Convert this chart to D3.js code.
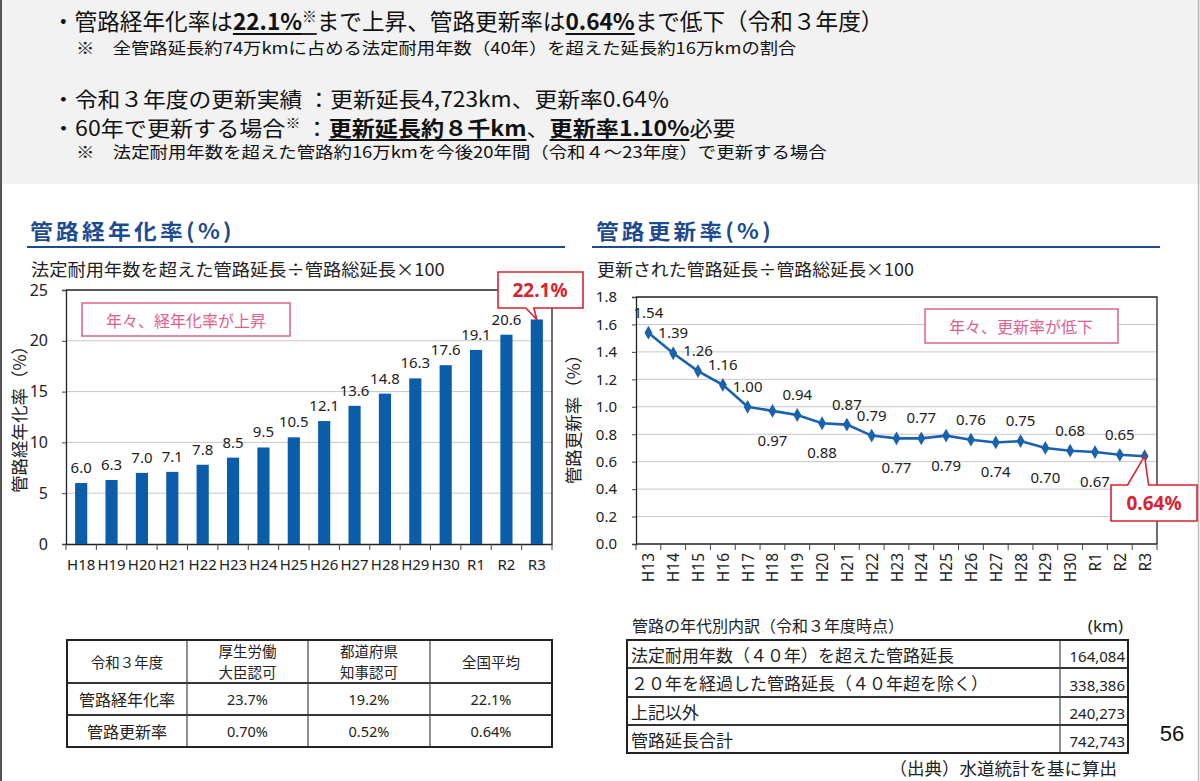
<!DOCTYPE html>
<html>
<head>
<meta charset="utf-8">
<script src="https://cdn.jsdelivr.net/npm/d3@7"></script>
<style>
  html, body { margin: 0; padding: 0; background: #fff; }
  svg { display: block; }
</style>
</head>
<body>
<div id="chart"></div>
<script>
// chart values
const agingCats = ["H18", "H19", "H20", "H21", "H22", "H23", "H24", "H25", "H26", "H27", "H28", "H29", "H30", "R1", "R2", "R3"];
const agingVals = [6.0, 6.3, 7.0, 7.1, 7.8, 8.5, 9.5, 10.5, 12.1, 13.6, 14.8, 16.3, 17.6, 19.1, 20.6, 22.1];
const agingTicks = [0, 5, 10, 15, 20, 25];

const renewCats = ["H13", "H14", "H15", "H16", "H17", "H18", "H19", "H20", "H21", "H22", "H23", "H24", "H25", "H26", "H27", "H28", "H29", "H30", "R1", "R2", "R3"];
const renewVals = [1.54, 1.39, 1.26, 1.16, 1.00, 0.97, 0.94, 0.88, 0.87, 0.79, 0.77, 0.77, 0.79, 0.76, 0.74, 0.75, 0.70, 0.68, 0.67, 0.65, 0.64];
const renewTicks = [0, 0.2, 0.4, 0.6, 0.8, 1.0, 1.2, 1.4, 1.6, 1.8];

const tableHead = ["令和３年度", "厚生労働\n大臣認可", "都道府県\n知事認可", "全国平均"];
const tableRowNames = ["管路経年化率", "管路更新率"];
const tableRowVals = [["23.7%", "19.2%", "22.1%"], ["0.70%", "0.52%", "0.64%"]];

const pipeLabels = ["法定耐用年数（４０年）を超えた管路延長", "２０年を経過した管路延長（４０年超を除く）", "上記以外", "管路延長合計"];
const pipeKm = [164084, 338386, 240273, 742743];

const JP = '"Noto Sans CJK JP", "Noto Sans", sans-serif';
const NUM = '"Noto Sans", "Noto Sans CJK JP", sans-serif';
const BLUE = "#0b5cab";
const RED = "#d9232e";
const PINK = "#e0608a";

const svg = d3.select("#chart").append("svg").attr("width", 1200).attr("height", 781);

svg.append("rect").attr("width", 1200).attr("height", 781).attr("fill", "#fff");
svg.append("rect").attr("width", 1200).attr("height", 184).attr("fill", "#f2f2f2");
svg.append("line").attr("x1", 1).attr("x2", 1).attr("y1", 0).attr("y2", 781).attr("stroke", "#555").attr("stroke-width", 2);
svg.append("line").attr("x1", 1198.5).attr("x2", 1198.5).attr("y1", 0).attr("y2", 781).attr("stroke", "#bbb").attr("stroke-width", 1.5);

// squeeze a text group to a given width
function fitText(g, w) {
  const len = g.select("text").node().getComputedTextLength();
  if (len > 0) g.attr("transform", g.attr("transform") + " scale(" + (w / len) + ",1)");
}

function drawLine(x, y, w, size, segs) {
  const g = svg.append("g").attr("transform", "translate(" + x + "," + y + ")");
  const t = g.append("text").attr("font-family", JP).attr("font-size", size).attr("fill", "#111");
  segs.forEach(function (s) {
    const ts = t.append("tspan").text(s.t);
    if (s.b) ts.attr("font-weight", 700);
    if (s.u) ts.attr("class", "ul");
    if (s.sup) ts.attr("font-size", size * 0.65).attr("dy", -size * 0.36);
    if (s.back) ts.attr("dy", size * 0.36);
  });
  fitText(g, w);
  t.selectAll("tspan.ul").each(function () {
    const x0 = this.getStartPositionOfChar(0).x;
    const len = this.getComputedTextLength();
    g.append("line").attr("x1", x0).attr("x2", x0 + len)
      .attr("y1", 4).attr("y2", 4).attr("stroke", "#111").attr("stroke-width", 1.8);
  });
}

// header text
drawLine(52, 30, 832, 23, [
  { t: "・管路経年化率は" }, { t: "22.1%", b: 1, u: 1 }, { t: "※", u: 1, sup: 1 },
  { t: "まで上昇、管路更新率は", back: 1 }, { t: "0.64%", b: 1, u: 1 }, { t: "まで低下（令和３年度）" }
]);
drawLine(76, 54, 721, 16, [{ t: "※　全管路延長約74万kmに占める法定耐用年数（40年）を超えた延長約16万kmの割合" }]);
drawLine(52, 107, 618, 21, [{ t: "・令和３年度の更新実績 ：更新延長4,723km、更新率0.64％" }]);
drawLine(52, 136, 684, 21, [
  { t: "・60年で更新する場合" }, { t: "※", sup: 1 }, { t: "  ：", back: 1 },
  { t: "更新延長約８千km", b: 1, u: 1 }, { t: "、" }, { t: "更新率1.10%", b: 1, u: 1 }, { t: "必要" }
]);
drawLine(76, 158, 751, 16, [{ t: "※　法定耐用年数を超えた管路約16万kmを今後20年間（令和４～23年度）で更新する場合" }]);

// section titles
function sectionTitle(x, y, w, lineX1, lineX2, label, sub, subW) {
  const g = svg.append("g").attr("transform", "translate(" + x + "," + y + ")");
  g.append("text").attr("font-family", JP).attr("font-size", 21).attr("font-weight", 700)
    .attr("letter-spacing", 3).attr("fill", "#1e4b8f").text(label);
  fitText(g, w);
  svg.append("line").attr("x1", lineX1).attr("x2", lineX2).attr("y1", 247).attr("y2", 247)
    .attr("stroke", "#1e4b8f").attr("stroke-width", 2);
  const g2 = svg.append("g").attr("transform", "translate(" + (x + 1) + ",276)");
  g2.append("text").attr("font-family", JP).attr("font-size", 17.5).attr("fill", "#222").text(sub);
  fitText(g2, subW);
}
sectionTitle(30, 239, 205, 27, 565, "管路経年化率(%)", "法定耐用年数を超えた管路延長÷管路総延長×100", 414);
sectionTitle(596, 239, 178, 592, 1160, "管路更新率(%)", "更新された管路延長÷管路総延長×100", 317);

// ---------- left chart: bars ----------
const xA = d3.scaleBand().domain(agingCats).range([66, 552]).paddingInner(0.6).paddingOuter(0.3);
const yA = d3.scaleLinear().domain([0, 25]).range([544, 290]);
const left = svg.append("g");

left.selectAll(".grid").data(agingTicks.slice(1, -1)).enter().append("line")
  .attr("x1", 66).attr("x2", 552).attr("y1", d => yA(d)).attr("y2", d => yA(d))
  .attr("stroke", "#c8c8c8").attr("stroke-width", 1);
left.append("path").attr("d", "M66," + yA(25) + "H552V544").attr("fill", "none").attr("stroke", "#222").attr("stroke-width", 1.3);

const yAxisA = left.append("g").attr("transform", "translate(66,0)")
  .call(d3.axisLeft(yA).tickValues(agingTicks).tickSize(4).tickPadding(14).tickFormat(d3.format("d")));
yAxisA.select(".domain").attr("stroke", "#222").attr("stroke-width", 1.3);
yAxisA.selectAll("line").attr("stroke", "#444");
yAxisA.selectAll("text").attr("font-family", NUM).attr("font-size", 16).attr("fill", "#222");

const xAxisA = left.append("g").attr("transform", "translate(0,544)")
  .call(d3.axisBottom(xA).tickSize(0).tickPadding(15));
xAxisA.select(".domain").attr("stroke", "#222").attr("stroke-width", 1.3);
xAxisA.selectAll("text").attr("font-family", NUM).attr("font-size", 15).attr("fill", "#222");
const stepA = xA.step();
left.selectAll(".xtick").data(d3.range(agingCats.length + 1)).enter().append("line")
  .attr("x1", i => xA(agingCats[0]) + xA.bandwidth() / 2 - stepA / 2 + i * stepA)
  .attr("x2", i => xA(agingCats[0]) + xA.bandwidth() / 2 - stepA / 2 + i * stepA)
  .attr("y1", 544).attr("y2", 550).attr("stroke", "#444");

left.selectAll(".bar").data(agingVals).enter().append("rect")
  .attr("x", (d, i) => xA(agingCats[i])).attr("width", xA.bandwidth())
  .attr("y", d => yA(d)).attr("height", d => yA(0) - yA(d)).attr("fill", BLUE);

left.selectAll(".val").data(agingVals.slice(0, -1)).enter().append("text")
  .attr("x", (d, i) => xA(agingCats[i]) + xA.bandwidth() / 2).attr("y", d => yA(d) - 10)
  .attr("text-anchor", "middle").attr("font-family", NUM).attr("font-size", 15).attr("fill", "#222")
  .text(d3.format(".1f"));

left.append("text").attr("transform", "translate(18,415) rotate(-90)").attr("text-anchor", "middle")
  .attr("dominant-baseline", "central")
  .attr("font-family", JP).attr("font-size", 17.5).attr("fill", "#222").text("管路経年化率（%）");

// pink note
left.append("rect").attr("x", 82).attr("y", 303).attr("width", 208).attr("height", 33)
  .attr("fill", "#fff").attr("stroke", "#d9658c").attr("stroke-width", 1.5);
left.append("text").attr("x", 186).attr("y", 320).attr("dominant-baseline", "central").attr("text-anchor", "middle")
  .attr("font-family", JP).attr("font-size", 16).attr("fill", PINK).text("年々、経年化率が上昇");

// red callout on last bar
const tA = [xA("R3") + xA.bandwidth() / 2, yA(agingVals[agingVals.length - 1])];
left.append("path")
  .attr("d", "M498,272H583V308H" + (tA[0] - 3) + "L" + tA[0] + "," + tA[1] + "L" + (tA[0] - 11) + ",308H498Z")
  .attr("fill", "#fff").attr("stroke", RED).attr("stroke-width", 1.6);
left.append("text").attr("x", 540).attr("y", 290).attr("dominant-baseline", "central").attr("text-anchor", "middle")
  .attr("font-family", NUM).attr("font-size", 19).attr("font-weight", 700).attr("fill", RED)
  .text(d3.format(".1f")(agingVals[agingVals.length - 1]) + "%");

// ---------- right chart: line ----------
const xR = d3.scaleBand().domain(renewCats).range([636, 1157]);
const yR = d3.scaleLinear().domain([0, 1.8]).range([544, 297]);
const cx = c => xR(c) + xR.bandwidth() / 2;
const right = svg.append("g");

right.selectAll(".grid").data(renewTicks.slice(1, -1)).enter().append("line")
  .attr("x1", 636).attr("x2", 1157).attr("y1", d => yR(d)).attr("y2", d => yR(d))
  .attr("stroke", "#c8c8c8").attr("stroke-width", 1);
right.append("path").attr("d", "M636," + yR(1.8) + "H1157V544").attr("fill", "none").attr("stroke", "#222").attr("stroke-width", 1.3);

const yAxisR = right.append("g").attr("transform", "translate(636,0)")
  .call(d3.axisLeft(yR).tickValues(renewTicks).tickSize(4).tickPadding(15).tickFormat(d3.format(".1f")));
yAxisR.select(".domain").attr("stroke", "#222").attr("stroke-width", 1.3);
yAxisR.selectAll("line").attr("stroke", "#444");
yAxisR.selectAll("text").attr("font-family", NUM).attr("font-size", 15).attr("fill", "#222");

right.append("line").attr("x1", 636).attr("x2", 1157).attr("y1", 544).attr("y2", 544).attr("stroke", "#222").attr("stroke-width", 1.3);
right.selectAll(".xtick").data(d3.range(renewCats.length + 1)).enter().append("line")
  .attr("x1", i => 636 + i * xR.step()).attr("x2", i => 636 + i * xR.step())
  .attr("y1", 544).attr("y2", 550).attr("stroke", "#444");
right.selectAll(".xlab").data(renewCats).enter().append("text")
  .attr("transform", d => "translate(" + cx(d) + ",553) rotate(-90)")
  .attr("text-anchor", "end").attr("dominant-baseline", "central")
  .attr("font-family", NUM).attr("font-size", 15.5).attr("fill", "#222").text(d => d);

const line = d3.line().x((d, i) => cx(renewCats[i])).y(d => yR(d));
right.append("path").datum(renewVals).attr("d", line).attr("fill", "none")
  .attr("stroke", "#1a62ad").attr("stroke-width", 2.6);
right.selectAll(".mk").data(renewVals).enter().append("path")
  .attr("transform", (d, i) => "translate(" + cx(renewCats[i]) + "," + yR(d) + ")")
  .attr("d", d3.symbol().type(d3.symbolDiamond).size(55)).attr("fill", "#1a62ad");

// label side for each point (a = above, b = below)
const labelSide = ["a", "a", "a", "a", "a", "b", "a", "b", "a", "a", "b", "a", "b", "a", "b", "a", "b", "a", "b", "a"];
right.selectAll(".val").data(renewVals.slice(0, -1)).enter().append("text")
  .attr("x", (d, i) => cx(renewCats[i]))
  .attr("y", (d, i) => yR(d) + (labelSide[i] === "a" ? -21 : 29))
  .attr("text-anchor", "middle").attr("dominant-baseline", "central")
  .attr("font-family", NUM).attr("font-size", 15).attr("fill", "#222")
  .text(d3.format(".2f"));

right.append("text").attr("transform", "translate(572,415) rotate(-90)").attr("text-anchor", "middle")
  .attr("dominant-baseline", "central")
  .attr("font-family", JP).attr("font-size", 17.5).attr("fill", "#222").text("管路更新率（%）");

right.append("rect").attr("x", 925).attr("y", 309).attr("width", 193).attr("height", 34)
  .attr("fill", "#fff").attr("stroke", "#d9658c").attr("stroke-width", 1.5);
right.append("text").attr("x", 1021).attr("y", 326).attr("dominant-baseline", "central").attr("text-anchor", "middle")
  .attr("font-family", JP).attr("font-size", 16).attr("fill", PINK).text("年々、更新率が低下");

const lastR = renewVals[renewVals.length - 1];
const tR = [cx("R3"), yR(lastR)];
right.append("path")
  .attr("d", "M1111,485H" + (tR[0] - 17) + "L" + tR[0] + "," + tR[1] + "L" + (tR[0] + 4) + ",485H1197V521H1111Z")
  .attr("fill", "#fff").attr("stroke", RED).attr("stroke-width", 1.6);
right.append("text").attr("x", 1154).attr("y", 503).attr("dominant-baseline", "central").attr("text-anchor", "middle")
  .attr("font-family", NUM).attr("font-size", 19).attr("font-weight", 700).attr("fill", RED)
  .text(d3.format(".2f")(lastR) + "%");

// ---------- left table ----------
const tx = [67, 187, 308, 430, 552];
const ty = [640, 683, 715, 747];
const tbl = svg.append("g");
ty.slice(1, -1).forEach(y => tbl.append("line").attr("x1", 67).attr("x2", 552).attr("y1", y).attr("y2", y)
  .attr("stroke", "#333").attr("stroke-width", 2));
tx.slice(1, -1).forEach(x => tbl.append("line").attr("x1", x).attr("x2", x).attr("y1", 640).attr("y2", 747)
  .attr("stroke", "#444").attr("stroke-width", 1.2));
tbl.append("rect").attr("x", 67).attr("y", 640).attr("width", 485).attr("height", 107)
  .attr("fill", "none").attr("stroke", "#222").attr("stroke-width", 2);

tableHead.forEach(function (h, i) {
  const parts = h.split("\n");
  const midX = (tx[i] + tx[i + 1]) / 2;
  parts.forEach(function (p, j) {
    tbl.append("text").attr("x", midX).attr("y", 661 + (j - (parts.length - 1) / 2) * 21)
      .attr("text-anchor", "middle").attr("dominant-baseline", "central")
      .attr("font-family", JP).attr("font-size", 14.5).attr("fill", "#222").text(p);
  });
});
tableRowNames.forEach(function (name, r) {
  const midY = (ty[r + 1] + ty[r + 2]) / 2;
  tbl.append("text").attr("x", (tx[0] + tx[1]) / 2).attr("y", midY)
    .attr("text-anchor", "middle").attr("dominant-baseline", "central")
    .attr("font-family", JP).attr("font-size", 16).attr("fill", "#222").text(name);
  tableRowVals[r].forEach(function (v, c) {
    tbl.append("text").attr("x", (tx[c + 1] + tx[c + 2]) / 2).attr("y", midY)
      .attr("text-anchor", "middle").attr("dominant-baseline", "central")
      .attr("font-family", NUM).attr("font-size", 14.5).attr("fill", "#222").text(v);
  });
});

// ---------- right table ----------
const px = [627, 1060, 1128];
const py = [640, 668, 697, 725, 753];
const pt = svg.append("g");
pt.append("text").attr("x", 632).attr("y", 625).attr("dominant-baseline", "central")
  .attr("font-family", JP).attr("font-size", 16).attr("fill", "#222").text("管路の年代別内訳（令和３年度時点）");
pt.append("text").attr("x", 1123).attr("y", 625).attr("dominant-baseline", "central").attr("text-anchor", "end")
  .attr("font-family", NUM).attr("font-size", 17).attr("fill", "#222").text("(km)");
py.slice(1, -1).forEach(y => pt.append("line").attr("x1", px[0]).attr("x2", px[2]).attr("y1", y).attr("y2", y)
  .attr("stroke", "#333").attr("stroke-width", 2));
pt.append("line").attr("x1", px[1]).attr("x2", px[1]).attr("y1", py[0]).attr("y2", py[4])
  .attr("stroke", "#444").attr("stroke-width", 1.2);
pt.append("rect").attr("x", px[0]).attr("y", py[0]).attr("width", px[2] - px[0]).attr("height", py[4] - py[0])
  .attr("fill", "none").attr("stroke", "#222").attr("stroke-width", 2);
pipeLabels.forEach(function (l, i) {
  const midY = (py[i] + py[i + 1]) / 2;
  pt.append("text").attr("x", 631).attr("y", midY).attr("dominant-baseline", "central")
    .attr("font-family", JP).attr("font-size", 17).attr("fill", "#222").text(l);
  pt.append("text").attr("x", 1125).attr("y", midY + 2).attr("dominant-baseline", "central").attr("text-anchor", "end")
    .attr("font-family", NUM).attr("font-size", 15).attr("fill", "#222").text(d3.format(",")(pipeKm[i]));
});
pt.append("text").attr("x", 1117).attr("y", 767).attr("dominant-baseline", "central").attr("text-anchor", "end")
  .attr("font-family", JP).attr("font-size", 17.5).attr("fill", "#222").text("（出典）水道統計を基に算出");

svg.append("text").attr("x", 1172).attr("y", 733).attr("dominant-baseline", "central").attr("text-anchor", "middle")
  .attr("font-family", '"Liberation Sans", Arial, sans-serif').attr("font-size", 22).attr("fill", "#111").text("56");
</script>
</body>
</html>
